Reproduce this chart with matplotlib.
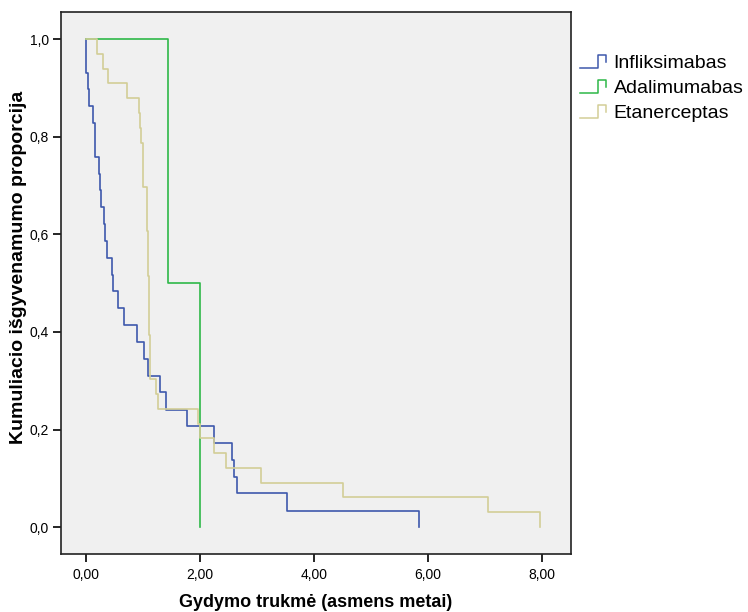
import matplotlib.pyplot as plt
from matplotlib.legend_handler import HandlerBase
from matplotlib.lines import Line2D
from matplotlib.ticker import FuncFormatter

plt.rcParams["font.family"] = ["Liberation Sans", "DejaVu Sans"]

# Kaplan-Meier step points: time of each drop and the proportion after it
infl_t = [0.00, 0.04, 0.05, 0.12, 0.16, 0.23, 0.25, 0.27, 0.31, 0.33, 0.37,
          0.46, 0.47, 0.56, 0.67, 0.90, 1.01, 1.09, 1.30, 1.40, 1.77, 2.25,
          2.56, 2.60, 2.65, 3.53, 5.85]
infl_s = [0.931, 0.897, 0.862, 0.828, 0.759, 0.724, 0.690, 0.655, 0.621,
          0.586, 0.552, 0.517, 0.483, 0.448, 0.414, 0.379, 0.345, 0.310,
          0.276, 0.241, 0.207, 0.172, 0.138, 0.103, 0.069, 0.034, 0.0]

adal_t = [1.44, 2.00]
adal_s = [0.5, 0.0]

etan_t = [0.19, 0.29, 0.38, 0.71, 0.92, 0.94, 0.96, 1.00, 1.06, 1.07, 1.08,
          1.09, 1.095, 1.10, 1.13, 1.22, 1.27, 1.97, 2.00, 2.25, 2.46, 3.07,
          4.50, 7.05, 7.97]
etan_s = [0.970, 0.939, 0.909, 0.879, 0.848, 0.818, 0.788, 0.697, 0.667,
          0.606, 0.545, 0.515, 0.455, 0.394, 0.303, 0.273, 0.242, 0.212,
          0.182, 0.152, 0.121, 0.091, 0.061, 0.030, 0.0]

groups = ["Infliksimabas", "Adalimumabas", "Etanerceptas"]
colors = ["#3E58AC", "#2EB848", "#D3CE97"]


class StepHandler(HandlerBase):
    def create_artists(self, legend, orig_handle, xdescent, ydescent,
                       width, height, fontsize, trans):
        xs = [0, 0.62, 0.62, 0.88, 0.88]
        ys = [0.05, 0.05, 1.0, 1.0, 0.45]
        line = Line2D([-xdescent + x * width for x in xs],
                      [-ydescent + y * height for y in ys],
                      color=orig_handle.get_color(), lw=1.1)
        line.set_transform(trans)
        return [line]


fig = plt.figure(figsize=(7.48, 6.12), dpi=100)
ax = fig.add_axes([0.0816, 0.0948, 0.6818, 0.886])
ax.set_facecolor("#F0F0F0")

handles = []
for t, s, c, name in zip([infl_t, adal_t, etan_t], [infl_s, adal_s, etan_s],
                         colors, groups):
    xs = [0.0] + t
    ys = [1.0] + s
    h, = ax.step(xs, ys, where="post", color=c, lw=1.2, label=name)
    handles.append(h)

ax.set_xlim(-0.44, 8.51)
ax.set_ylim(-0.055, 1.056)
ax.set_xticks([0, 2, 4, 6, 8])
ax.set_yticks([0, 0.2, 0.4, 0.6, 0.8, 1.0])
ax.xaxis.set_major_formatter(FuncFormatter(lambda v, p: f"{v:.2f}".replace(".", ",")))
ax.yaxis.set_major_formatter(FuncFormatter(lambda v, p: f"{v:.1f}".replace(".", ",")))
ax.tick_params(direction="out", length=5.5, width=1.2, labelsize=10, pad=3)
ax.tick_params(axis="x", pad=4.5)

for sp in ax.spines.values():
    sp.set_color("#222222")
    sp.set_linewidth(1.2)

ax.set_xlabel("Gydymo trukmė (asmens metai)", fontsize=13, fontweight="bold",
              labelpad=8.5)
ax.set_ylabel("Kumuliacio išgyvenamumo proporcija", fontsize=14,
              fontweight="bold")
ax.yaxis.set_label_coords(-0.066, 0.529)

ax.legend(handles, groups, handler_map={h: StepHandler() for h in handles},
          loc="upper left", bbox_to_anchor=(0.99, 0.946), frameon=False,
          fontsize=14, handlelength=1.55, handletextpad=0.2,
          labelspacing=0.38, borderaxespad=0.3)

fig.savefig("out.png", dpi=100)
